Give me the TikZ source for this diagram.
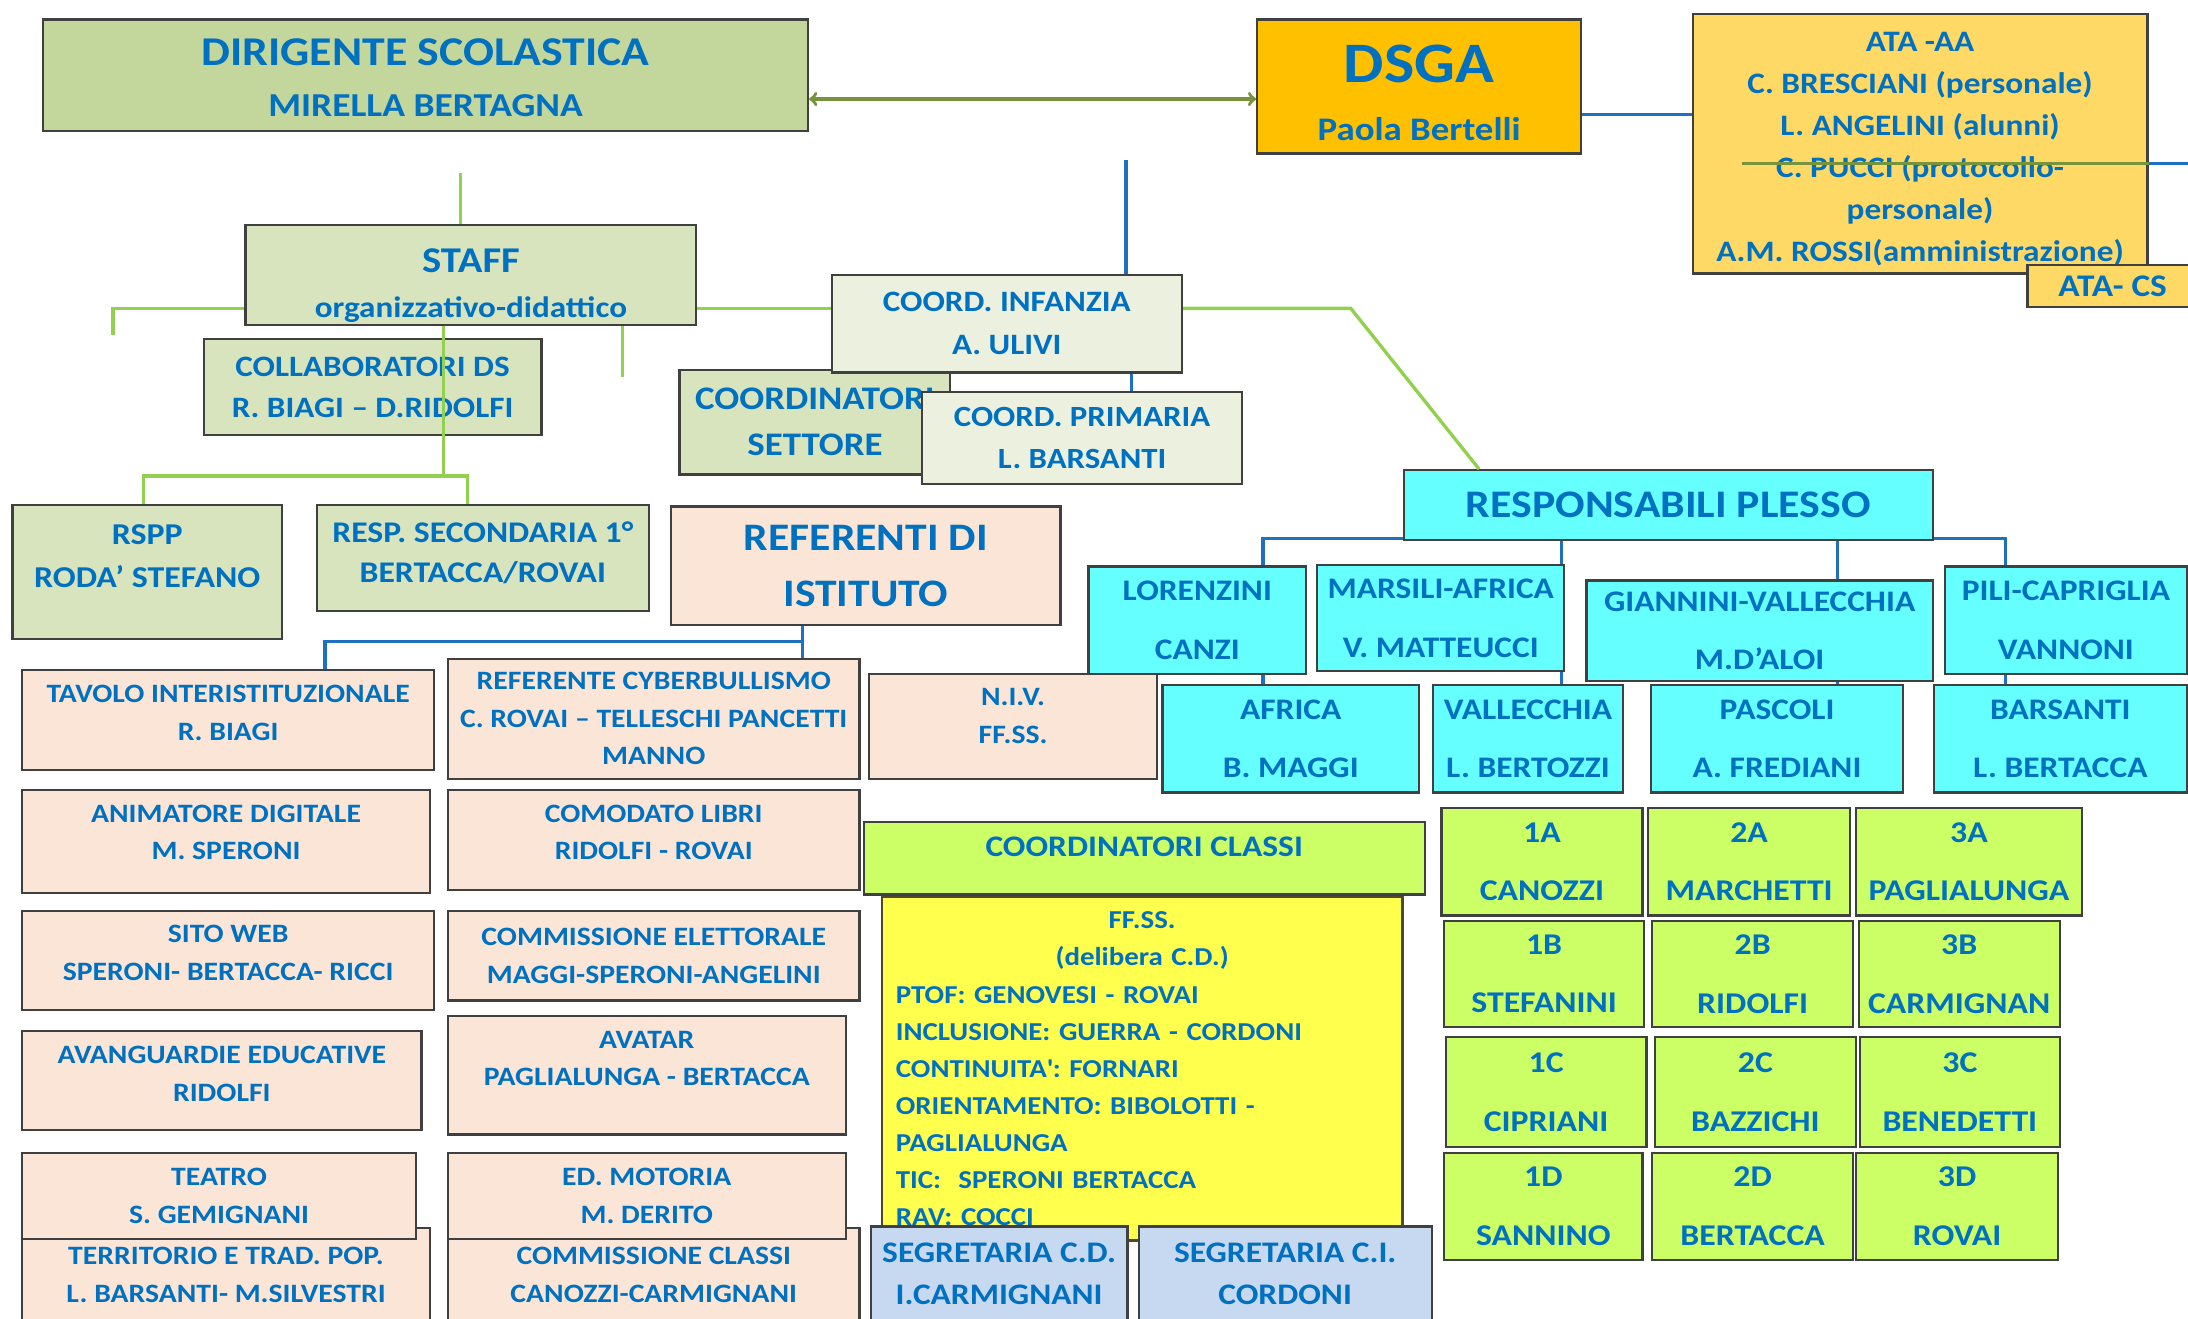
\documentclass[tikz,border=0pt]{standalone}
\usepackage{fontspec}
\setmainfont{Carlito}[FakeStretch=1.12]
\usetikzlibrary{positioning}
\definecolor{dirgreen}{HTML}{C3D69B}
\definecolor{staffgreen}{HTML}{D7E4BD}
\definecolor{palegreen}{HTML}{EBF1DE}
\definecolor{dsgaorange}{HTML}{FFC000}
\definecolor{ataorange}{HTML}{FFD966}
\definecolor{plessocyan}{HTML}{66FFFF}
\definecolor{refpeach}{HTML}{FBE5D6}
\definecolor{classlime}{HTML}{CCFF66}
\definecolor{ffyellow}{HTML}{FFFF4D}
\definecolor{segblue}{HTML}{C6D9F1}
\definecolor{txtblue}{HTML}{0070C0}
\definecolor{linegreen}{HTML}{92D050}
\definecolor{linkolive}{HTML}{77933C}
\definecolor{lineblue}{HTML}{1F70C1}
\tikzset{
  orgbox/.style={draw=black!75, line width=1.6pt, text=txtblue, align=center, inner sep=0pt, font=\fontsize{19}{27}\selectfont\bfseries},
  boxsize/.style 2 args={minimum width=#1, minimum height=#2},
  headbox/.style={orgbox, fill=dirgreen},
  staffbox/.style={orgbox, fill=staffgreen},
  coordbox/.style={orgbox, fill=palegreen},
  atabox/.style={orgbox, fill=ataorange},
  plessobox/.style={orgbox, fill=plessocyan, font=\fontsize{21.4}{42}\selectfont\bfseries},
  refbox/.style={orgbox, fill=refpeach},
  classbox/.style={orgbox, fill=classlime, font=\fontsize{21.6}{42}\selectfont\bfseries},
  segbox/.style={orgbox, fill=segblue, font=\fontsize{21.4}{30}\selectfont\bfseries},
  greenline/.style={draw=linegreen, line width=2.4pt},
  blueline/.style={draw=lineblue, line width=2.4pt}
}

\begin{document}
\frenchspacing
\begin{tikzpicture}[x=1pt,y=-1pt]
\useasboundingbox (0,0) rectangle (1568,945);
\clip (0,0) rectangle (1568,945);
%the top of the chart
\node[headbox, boxsize={548pt}{80pt}, font=\fontsize{29.3}{36.3}\selectfont\bfseries] (dirigente) at (305,54) {{}\\[-13.4pt]DIRIGENTE SCOLASTICA\\{\fontsize{24}{36.3}\selectfont MIRELLA BERTAGNA}};
\node[orgbox, fill=dsgaorange, boxsize={232pt}{96pt}, font=\fontsize{41}{41.5}\selectfont\bfseries] (dsga) at (1017,62) {{}\\[-6pt]DSGA\\{\fontsize{23.6}{41.5}\selectfont Paola Bertelli}};
\node[atabox, boxsize={326pt}{186pt}, font=\fontsize{21.3}{30.2}\selectfont\bfseries] (ataaa) at (1376,103) {{}\\[-8.7pt]ATA -AA\\C. BRESCIANI (personale)\\L. ANGELINI (alunni)\\C. PUCCI (protocollo-\\personale)\\A.M. ROSSI(amministrazione)};
\node[atabox, boxsize={122pt}{30pt}, font=\fontsize{22.6}{26}\selectfont\bfseries] (atacs) at (1514,205) {ATA- CS};
%the staff branch
\node[staffbox, boxsize={323pt}{72pt}, font=\fontsize{26}{32}\selectfont\bfseries] (staff) at (337.5,197) {{}\\[0.4pt]STAFF\\{\fontsize{21.2}{32}\selectfont organizzativo-didattico}};
\node[staffbox, boxsize={242pt}{69pt}, font=\fontsize{21.2}{29}\selectfont\bfseries] (collab) at (267,277.5) {COLLABORATORI DS\\R. BIAGI – D.RIDOLFI};
\node[staffbox, boxsize={194pt}{75pt}, font=\fontsize{23.6}{33}\selectfont\bfseries] (settore) at (584,302.5) {COORDINATORI\\SETTORE};
\node[coordbox, boxsize={251pt}{70pt}, font=\fontsize{21.2}{31}\selectfont\bfseries] (infanzia) at (721.5,232) {COORD. INFANZIA\\A. ULIVI};
\node[coordbox, boxsize={229pt}{66pt}, font=\fontsize{21}{30}\selectfont\bfseries] (primaria) at (775.5,314) {COORD. PRIMARIA\\L. BARSANTI};
\node[staffbox, boxsize={193pt}{96pt}, font=\fontsize{21.7}{31}\selectfont\bfseries] (rspp) at (105.5,410) {RSPP\\RODA’ STEFANO\\[-8pt]{}};
\node[staffbox, boxsize={238pt}{76pt}, font=\fontsize{21.5}{29}\selectfont\bfseries] (secondaria) at (346,400) {RESP. SECONDARIA 1°\\BERTACCA/ROVAI\\[-20pt]{}};
%the referenti
\node[refbox, boxsize={279pt}{85pt}, font=\fontsize{27.9}{40}\selectfont\bfseries] (referenti) at (620.5,405.5) {REFERENTI DI\\ISTITUTO};
\node[refbox, boxsize={295pt}{72pt}] (tavolo) at (163.5,516) {TAVOLO INTERISTITUZIONALE\\R. BIAGI\\[-17pt]{}};
\node[refbox, boxsize={295pt}{86pt}] (cyber) at (468.5,515) {REFERENTE CYBERBULLISMO\\C. ROVAI – TELLESCHI PANCETTI\\MANNO};
\node[refbox, boxsize={206pt}{75pt}] (niv) at (726,520.5) {N.I.V.\\FF.SS.\\[-12pt]{}};
\node[refbox, boxsize={292pt}{74pt}] (animatore) at (162,603) {ANIMATORE DIGITALE\\M. SPERONI\\[-14pt]{}};
\node[refbox, boxsize={295pt}{72pt}] (comodato) at (468.5,602) {COMODATO LIBRI\\RIDOLFI - ROVAI\\[-16pt]{}};
\node[refbox, boxsize={295pt}{71pt}] (sitoweb) at (163.5,688.5) {SITO WEB\\SPERONI- BERTACCA- RICCI\\[-16pt]{}};
\node[refbox, boxsize={295pt}{64pt}] (elettorale) at (468.5,685) {COMMISSIONE ELETTORALE\\MAGGI-SPERONI-ANGELINI};
\node[refbox, boxsize={286pt}{71pt}] (avanguardie) at (159,774.5) {AVANGUARDIE EDUCATIVE\\RIDOLFI\\[-17pt]{}};
\node[refbox, boxsize={285pt}{85pt}] (avatar) at (463.5,770.5) {AVATAR\\PAGLIALUNGA - BERTACCA\\[-3pt]{}};
\node[refbox, boxsize={292pt}{67pt}] (territorio) at (162,913.5) {TERRITORIO E TRAD. POP.\\L. BARSANTI- M.SILVESTRI};
\node[refbox, boxsize={295pt}{67pt}] (commclassi) at (468.5,913.5) {COMMISSIONE CLASSI\\CANOZZI-CARMIGNANI};
\node[refbox, boxsize={282pt}{62pt}] (teatro) at (157,857) {TEATRO\\S. GEMIGNANI};
\node[refbox, boxsize={285pt}{62pt}] (motoria) at (463.5,857) {ED. MOTORIA\\M. DERITO};
%the plessi
\node[plessobox, boxsize={379pt}{50pt}, font=\fontsize{28}{32}\selectfont\bfseries] (plesso) at (1195.5,362) {RESPONSABILI PLESSO};
\node[plessobox, boxsize={156pt}{77pt}] (lorenzini) at (858,444.5) {LORENZINI\\CANZI};
\node[plessobox, boxsize={177pt}{76pt}] (marsili) at (1032.5,443) {MARSILI-AFRICA\\V. MATTEUCCI};
\node[plessobox, boxsize={248pt}{72pt}] (giannini) at (1261,452) {GIANNINI-VALLECCHIA\\M.D’ALOI};
\node[plessobox, boxsize={173pt}{77pt}] (pili) at (1480.5,444.5) {PILI-CAPRIGLIA\\VANNONI};
\node[plessobox, boxsize={184pt}{77pt}] (africa) at (925,529.5) {AFRICA\\B. MAGGI};
\node[plessobox, boxsize={136pt}{77pt}] (vallecchia) at (1095,529.5) {VALLECCHIA\\L. BERTOZZI};
\node[plessobox, boxsize={181pt}{77pt}] (pascoli) at (1273.5,529.5) {PASCOLI\\A. FREDIANI};
\node[plessobox, boxsize={181pt}{77pt}] (barsanti) at (1476.5,529.5) {BARSANTI\\L. BERTACCA};
%the classes
\node[classbox, boxsize={402pt}{52pt}, font=\fontsize{21.4}{24}\selectfont\bfseries] (coordclassi) at (820,615) {COORDINATORI CLASSI\\[-8pt]{}};
\node[orgbox, fill=ffyellow, draw=black!60!olive, boxsize={373pt}{246pt}, text width=353pt, align=left, font=\fontsize{18.5}{26.6}\selectfont\bfseries] (ffss) at (818.5,766) {{\centering FF.SS.\\(delibera C.D.)\par}PTOF: GENOVESI - ROVAI\\INCLUSIONE: GUERRA - CORDONI\\CONTINUITA\textquotesingle: FORNARI\\ORIENTAMENTO: BIBOLOTTI -\\PAGLIALUNGA\\TIC:\ \ SPERONI BERTACCA\\RAV: COCCI};
\node[segbox, boxsize={184pt}{68pt}] (segcd) at (716,913) {SEGRETARIA C.D.\\I.CARMIGNANI};
\node[segbox, boxsize={210pt}{68pt}] (segci) at (921,913) {SEGRETARIA C.I.\\CORDONI};
\node[classbox, boxsize={144pt}{77pt}] (c1a) at (1105,617.5) {1A\\CANOZZI};
\node[classbox, boxsize={145pt}{77pt}] (c2a) at (1253.5,617.5) {2A\\MARCHETTI};
\node[classbox, boxsize={162pt}{77pt}] (c3a) at (1411,617.5) {3A\\PAGLIALUNGA};
\node[classbox, boxsize={143pt}{76pt}] (c1b) at (1106.5,698) {1B\\STEFANINI};
\node[classbox, boxsize={144pt}{76pt}] (c2b) at (1256,698) {2B\\RIDOLFI};
\node[classbox, boxsize={144pt}{76pt}] (c3b) at (1404,698) {3B\\CARMIGNAN};
\node[classbox, boxsize={144pt}{79pt}] (c1c) at (1108,782.5) {1C\\CIPRIANI};
\node[classbox, boxsize={144pt}{79pt}] (c2c) at (1258,782.5) {2C\\BAZZICHI};
\node[classbox, boxsize={143pt}{79pt}] (c3c) at (1404.5,782.5) {3C\\BENEDETTI};
\node[classbox, boxsize={142pt}{77pt}] (c1d) at (1106,864.5) {1D\\SANNINO};
\node[classbox, boxsize={144pt}{77pt}] (c2d) at (1256,864.5) {2D\\BERTACCA};
\node[classbox, boxsize={145pt}{77pt}] (c3d) at (1402.5,864.5) {3D\\ROVAI};
%lines between the boxes
\draw[<->, linkolive, line width=2.5pt] ([yshift=-17pt]dirigente.east) -- ([yshift=-17pt]dirigente.east -| dsga.west);
\draw[blueline] ([yshift=-20pt]dsga.east) -- ([yshift=-20pt]dsga.east -| ataaa.west);
\draw[linkolive, line width=2pt] ([xshift=36pt,yshift=-14pt]ataaa.west) -- ([yshift=-14pt]ataaa.east);
\coordinate (ataout) at (1570,117);
\draw[blueline] ([yshift=-14pt]ataaa.east) -- (ataout);

\coordinate (dsgadrop) at (807,115);
\draw[blueline] (dsgadrop) -- (dsgadrop |- infanzia.north);
\draw[blueline] ([xshift=89.5pt]infanzia.south) -- ([xshift=89.5pt]infanzia.south |- primaria.north);

\coordinate (staffup) at (330,124);
\draw[greenline] (staffup) -- (staffup |- staff.north);
\coordinate (staffleft) at (81,240);
\draw[greenline] ([yshift=-24pt]staff.west) -| (staffleft);
\draw[greenline] ([yshift=-24pt]staff.east) -- ([yshift=-24pt]staff.east -| infanzia.west);
\coordinate (staffdrop) at (446,270);
\draw[greenline] (staffdrop |- staff.south) -- (staffdrop);
\coordinate (stafffork) at (318,341);
\draw[greenline] (stafffork |- staff.south) -- (stafffork);
\draw[greenline] ([xshift=-2.5pt]rspp.north) |- (stafffork) -| ([xshift=-11pt]secondaria.north);

\coordinate (plessobend) at (968,221);
\draw[greenline] ([yshift=11pt]infanzia.east) -- (plessobend) -- ([xshift=-135.5pt]plesso.north);

\draw[blueline] ([yshift=2pt]plesso.south west) -| ([xshift=47pt]lorenzini.north);
\draw[blueline] ([yshift=2pt]plesso.south east) -| ([xshift=-43.5pt]pili.north);
\draw[blueline] ([xshift=-76.5pt]plesso.south) -- ([xshift=-76.5pt]plesso.south |- marsili.north);
\draw[blueline] ([xshift=121.5pt]plesso.south) -- ([xshift=121.5pt]plesso.south |- giannini.north);
\draw[blueline] ([xshift=47pt]lorenzini.south) -- ([xshift=47pt]lorenzini.south |- africa.north);
\draw[blueline] ([xshift=86.5pt]marsili.south) -- ([xshift=86.5pt]marsili.south |- vallecchia.north);
\draw[blueline] ([xshift=56pt]giannini.south) -- ([xshift=56pt]giannini.south |- pascoli.north);
\draw[blueline] ([xshift=-43.5pt]pili.south) -- ([xshift=-43.5pt]pili.south |- barsanti.north);

\draw[blueline] ([xshift=-45.5pt]referenti.south) -- ([xshift=-45.5pt]referenti.south |- cyber.north);
\draw[blueline] ([xshift=-45.5pt,yshift=-11pt]referenti.south) -| ([xshift=69.5pt]tavolo.north);

\end{tikzpicture}
\end{document}
